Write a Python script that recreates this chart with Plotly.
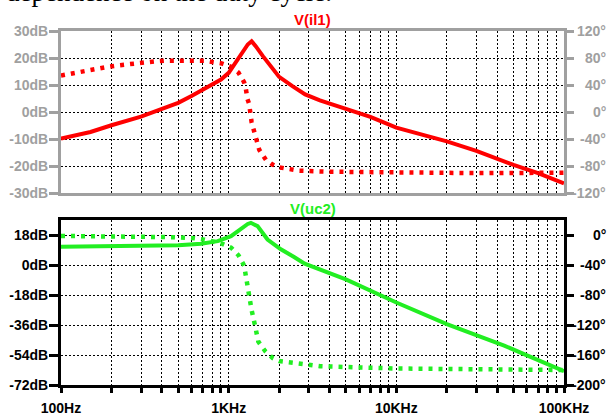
import plotly.graph_objects as go

# ---------------- data ----------------
# V(il1) magnitude (dB)
il1_mag_f = [100, 150, 200, 300, 400, 500, 600, 700, 800, 900, 1000, 1100, 1200,
             1300, 1370, 1450, 1600, 1800, 2000, 2400, 2860, 3500, 5000, 7000,
             10000, 15000, 20000, 30000, 50000, 70000, 100000]
il1_mag_db = [-9.8, -7.4, -4.9, -1.7, 1.2, 3.4, 5.9, 8.1, 10.2, 12.0, 14.5, 18.2, 21.9,
              25.0, 26.2, 24.4, 20.7, 16.4, 13.0, 9.6, 6.5, 4.3, 1.0, -1.8,
              -5.8, -8.9, -10.9, -14.4, -19.6, -22.6, -26.4]

# V(il1) phase (deg)
il1_ph_f = [100, 115, 127, 145, 167, 191, 219, 251, 288, 318, 363, 417, 478, 548, 628,
            720, 800, 910, 1033, 1144, 1237, 1265, 1295, 1325, 1370, 1434, 1454, 1522,
            1670, 1831, 2000, 2295, 2634, 4000, 10000, 30000, 100000]
il1_ph_deg = [54, 57, 59.5, 62, 64, 67, 69, 71, 73, 74, 75, 76, 76, 76, 76,
              76, 74, 72, 67, 58.5, 44, 35, 19, 12, -15, -35, -40, -56,
              -71, -78, -82, -85, -87, -88.5, -90, -90.5, -90]

# V(uc2) magnitude (dB)
uc2_mag_f = [100, 200, 300, 500, 685, 861, 1033, 1180, 1300, 1357, 1487, 1705,
             2048, 2455, 2840, 5000, 10000, 20000, 44000, 100000]
uc2_mag_db = [11.0, 11.2, 11.4, 11.8, 12.7, 14.3, 17.3, 21.9, 24.6, 25.3, 23.3, 15.3,
              9.4, 4.8, 0.8, -8.6, -22.5, -35.5, -48.4, -63.7]

# V(uc2) phase (deg)
uc2_ph_f = [100, 127, 167, 219, 288, 363, 478, 548, 628, 720, 800, 910, 1033, 1144,
            1237, 1283, 1370, 1434, 1502, 1654, 1831, 2000, 2295, 2634, 3510,
            10000, 100000]
uc2_ph_deg = [-1.3, -1.3, -1.8, -2.2, -2.2, -2.6, -3.0, -3.5, -4.4, -6.2, -8.0, -11.5,
              -16.7, -27, -41, -65, -100, -120, -142, -155, -164, -168, -170, -172,
              -175, -178, -180]

# axis ticks
x_tickvals = [m * 10 ** e for e in (2, 3, 4) for m in range(1, 10)] + [100000]
x_ticktext = ["100Hz" if v == 100 else "1KHz" if v == 1000 else "10KHz" if v == 10000
              else "100KHz" if v == 100000 else "" for v in x_tickvals]
top_db_ticks = [-30, -20, -10, 0, 10, 20, 30]
top_deg_ticks = [-120, -80, -40, 0, 40, 80, 120]
bot_db_ticks = [-72, -54, -36, -18, 0, 18]
bot_deg_ticks = [-200, -160, -120, -80, -40, 0]

RED = "#ff0000"
GREEN = "#22ee22"
GRAY = "#a0a0a0"
FONT = "Liberation Sans"

W, H = 608, 416
ML, MR, MT, MB = 61, 44, 31, 31
plot_h = H - MT - MB
plot_w = W - ML - MR


def py(pix):
    """pixel y from top -> paper coordinate"""
    return (H - MB - pix) / plot_h


def px(pix):
    """pixel x from left -> paper coordinate"""
    return (pix - ML) / plot_w


top_dom = [py(193), 1.0]
bot_dom = [0.0, py(220)]

fig = go.Figure()

fig.add_trace(go.Scatter(x=il1_ph_f, y=il1_ph_deg, xaxis="x2", yaxis="y4", mode="lines",
                         line=dict(color=RED, width=4.5, dash="4px,6px")))
fig.add_trace(go.Scatter(x=il1_mag_f, y=il1_mag_db, xaxis="x2", yaxis="y3", mode="lines",
                         line=dict(color=RED, width=4)))
fig.add_trace(go.Scatter(x=uc2_ph_f, y=uc2_ph_deg, xaxis="x", yaxis="y2", mode="lines",
                         line=dict(color=GREEN, width=4.5, dash="4px,6px")))
fig.add_trace(go.Scatter(x=uc2_mag_f, y=uc2_mag_db, xaxis="x", yaxis="y", mode="lines",
                         line=dict(color=GREEN, width=4)))

tickfont_gray = dict(family=FONT, size=14, color=GRAY, weight="bold")
tickfont_black = dict(family=FONT, size=14, color="black", weight="bold")

common_x = dict(type="log", range=[2, 5], tickvals=x_tickvals, showgrid=True,
                gridcolor="black", gridwidth=1, griddash="2px,2px", zeroline=False,
                automargin=False)

fig.update_layout(
    width=W, height=H, margin=dict(l=ML, r=MR, t=MT, b=MB, autoexpand=False),
    paper_bgcolor="white", plot_bgcolor="white", showlegend=False,
    xaxis=dict(**common_x, domain=[0, 1], anchor="y", ticktext=x_ticktext,
               ticks="outside", ticklen=5, tickwidth=3, tickcolor="black",
               ticklabelstandoff=3,
               tickfont=tickfont_black, showline=True, linecolor="black",
               linewidth=3, mirror=True),
    yaxis=dict(domain=bot_dom, range=[-72, 27], tickvals=bot_db_ticks,
               ticktext=[f"{v}dB" for v in bot_db_ticks], ticks="outside",
               ticklen=9, tickwidth=3, tickcolor="black", tickfont=tickfont_black,
               showline=True, linecolor="black", linewidth=3, mirror=True,
               showgrid=True, gridcolor="black", gridwidth=1, griddash="2px,2px",
               zeroline=False, anchor="x", automargin=False, ticklabelstandoff=-2),
    yaxis2=dict(overlaying="y", side="right", range=[-200, 20], tickvals=bot_deg_ticks,
                showticklabels=False, ticks="outside", ticklen=9,
                tickwidth=3, tickcolor="black",
                showgrid=False, zeroline=False, anchor="x", automargin=False),
    xaxis2=dict(**common_x, domain=[0, 1], anchor="y3", showticklabels=False,
                ticks="", showline=True, linecolor=GRAY, linewidth=3, mirror=True),
    yaxis3=dict(domain=top_dom, range=[-30, 30], tickvals=top_db_ticks,
                ticktext=[f"{v}dB" for v in top_db_ticks], ticks="outside",
                ticklen=9, tickwidth=3, tickcolor=GRAY, tickfont=tickfont_gray,
                showline=True, linecolor=GRAY, linewidth=3, mirror=True,
                showgrid=True, gridcolor="black", gridwidth=1, griddash="2px,2px",
                zeroline=False, anchor="x2", automargin=False, ticklabelstandoff=-2),
    yaxis4=dict(overlaying="y3", side="right", range=[-120, 120], tickvals=top_deg_ticks,
                showticklabels=False, ticks="outside", ticklen=9,
                tickwidth=3, tickcolor=GRAY,
                showgrid=False, zeroline=False, anchor="x2", automargin=False),
)

# right-aligned phase tick labels (as in the reference)
for v in top_deg_ticks:
    fig.add_annotation(text=f"{v}°", x=px(608), y=v, xref="paper", yref="y4",
                       xanchor="right", yanchor="middle", showarrow=False,
                       font=tickfont_gray)
for v in bot_deg_ticks:
    fig.add_annotation(text=f"{v}°", x=px(608), y=v, xref="paper", yref="y2",
                       xanchor="right", yanchor="middle", showarrow=False,
                       font=tickfont_black)

fig.add_annotation(text="<b>V(il1)</b>", x=0.5, y=py(19), xref="paper", yref="paper",
                   xanchor="center", yanchor="middle", showarrow=False,
                   font=dict(family=FONT, size=15, color=RED))
fig.add_annotation(text="<b>V(uc2)</b>", x=0.5, y=py(209), xref="paper", yref="paper",
                   xanchor="center", yanchor="middle", showarrow=False,
                   font=dict(family=FONT, size=15, color=GREEN))
fig.add_annotation(text="dependence on the duty cycle.", x=px(4),
                   y=py(9), xref="paper", yref="paper", xanchor="left", yanchor="bottom",
                   showarrow=False,
                   font=dict(family="Liberation Serif", size=27, color="black"))

fig.write_html("out.html")
